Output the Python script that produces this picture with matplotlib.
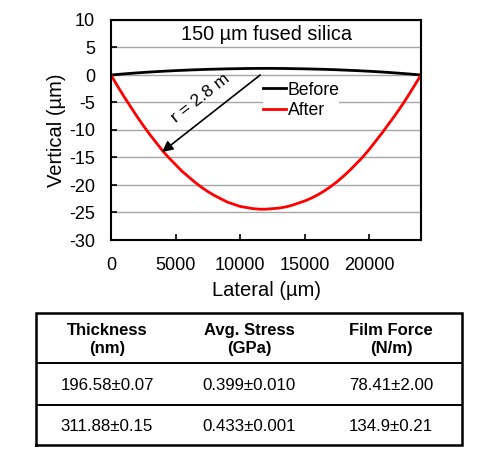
import matplotlib
matplotlib.use("Agg")
import matplotlib.pyplot as plt

plt.rcParams['font.family'] = ['Liberation Sans', 'DejaVu Sans']
plt.rcParams['axes.unicode_minus'] = False

# Lateral positions (µm)
lateral = [0, 500, 1000, 1500, 2000, 2500, 3000, 3500, 4000, 4500, 5000, 5500,
           6000, 6500, 7000, 7500, 8000, 8500, 9000, 9500, 10000, 10500, 11000,
           11500, 12000, 12500, 13000, 13500, 14000, 14500, 15000, 15500, 16000,
           16500, 17000, 17500, 18000, 18500, 19000, 19500, 20000, 20500, 21000,
           21500, 22000, 22500, 23000, 23500, 24000]
# Vertical profile before deposition (µm)
before = [0.0, 0.10, 0.20, 0.29, 0.38, 0.46, 0.54, 0.61, 0.68, 0.74, 0.80, 0.85,
          0.90, 0.95, 0.99, 1.03, 1.06, 1.09, 1.12, 1.14, 1.16, 1.18, 1.19, 1.20,
          1.20, 1.20, 1.19, 1.18, 1.16, 1.14, 1.12, 1.09, 1.06, 1.03, 0.99, 0.95,
          0.90, 0.85, 0.80, 0.74, 0.68, 0.61, 0.54, 0.46, 0.38, 0.29, 0.20, 0.10, 0.0]
# Vertical profile after deposition (µm)
after = [0.0, -2.0, -3.9, -5.7, -7.5, -9.2, -10.8, -12.3, -13.8, -15.1, -16.3,
         -17.5, -18.5, -19.5, -20.4, -21.2, -21.9, -22.5, -23.1, -23.5, -23.9,
         -24.1, -24.3, -24.4, -24.4, -24.3, -24.2, -24.0, -23.7, -23.3, -22.9,
         -22.4, -21.8, -21.1, -20.3, -19.4, -18.4, -17.3, -16.1, -14.9, -13.5,
         -12.0, -10.5, -8.9, -7.3, -5.6, -3.8, -1.9, 0.0]

xticks = [0, 5000, 10000, 15000, 20000]
yticks = [10, 5, 0, -5, -10, -15, -20, -25, -30]

title_text = "150 µm fused silica"
radius_label = "r = 2.8 m"
arrow_start = (11550, 0.0)
arrow_end = (3950, -14.0)

col_headers = ["Thickness\n(nm)", "Avg. Stress\n(GPa)", "Film Force\n(N/m)"]
row1 = ["196.58±0.07", "0.399±0.010", "78.41±2.00"]
row2 = ["311.88±0.15", "0.433±0.001", "134.9±0.21"]

fig = plt.figure(figsize=(4.98, 4.69), dpi=100)
ax = fig.add_axes([111/498, 1-240/469, 310/498, 220/469])

ax.plot(lateral, before, color='black', lw=2.0, label='Before')
ax.plot(lateral, after, color='#ff0000', lw=2.0, label='After')

ax.set_xlim(0, 24000)
ax.set_ylim(-30, 10)
ax.set_xticks(xticks)
ax.set_yticks(yticks)
ax.yaxis.grid(True, color='#a6a6a6', lw=1.0)
ax.set_axisbelow(True)
ax.tick_params(direction='in', length=4, width=1.2, labelsize=13)
ax.tick_params(axis='x', pad=12)
ax.tick_params(axis='y', pad=11.5)
for s in ax.spines.values():
    s.set_linewidth(1.5)
ax.set_xlabel("Lateral (µm)", fontsize=14.5, labelpad=5)
ax.set_ylabel("Vertical (µm)", fontsize=14.5, labelpad=2)

ax.text(12000, 7.3, title_text, ha='center', va='center', fontsize=14.3)

ax.annotate("", xy=arrow_end, xytext=arrow_start,
            arrowprops=dict(arrowstyle='-|>', color='black', lw=1.2,
                            mutation_scale=16, shrinkA=0, shrinkB=0))
ax.text(6900, -4.2, radius_label, rotation=38, ha='center', va='center', fontsize=12.5)

leg = ax.legend(loc='upper left', bbox_to_anchor=(0.49, 0.72), frameon=True,
                fontsize=12.7, handlelength=1.3, handletextpad=0.1,
                labelspacing=0.18, borderpad=0.0, borderaxespad=0)
leg.get_frame().set_edgecolor('none')
leg.get_frame().set_facecolor('white')
leg.get_frame().set_alpha(1)

# Table
tax = fig.add_axes([36/498, 1-445/469, 426/498, 132/469])
tax.set_xlim(0, 3)
tax.set_ylim(0, 132)
tax.axis('off')
tax.plot([0, 3, 3, 0, 0], [0, 0, 132, 132, 0], color='black', lw=1.8,
         clip_on=False, solid_joinstyle='miter')
tax.axhline(82, color='black', lw=1.4)
tax.axhline(40.5, color='black', lw=1.4)
for i, h in enumerate(col_headers):
    tax.text(i + 0.5, 105.5, h, ha='center', va='center', fontsize=12,
             fontweight='bold', linespacing=1.25)
for i, v in enumerate(row1):
    tax.text(i + 0.5, 60, v, ha='center', va='center', fontsize=12.2)
for i, v in enumerate(row2):
    tax.text(i + 0.5, 19, v, ha='center', va='center', fontsize=12.2)

fig.savefig("out.png", dpi=100)
